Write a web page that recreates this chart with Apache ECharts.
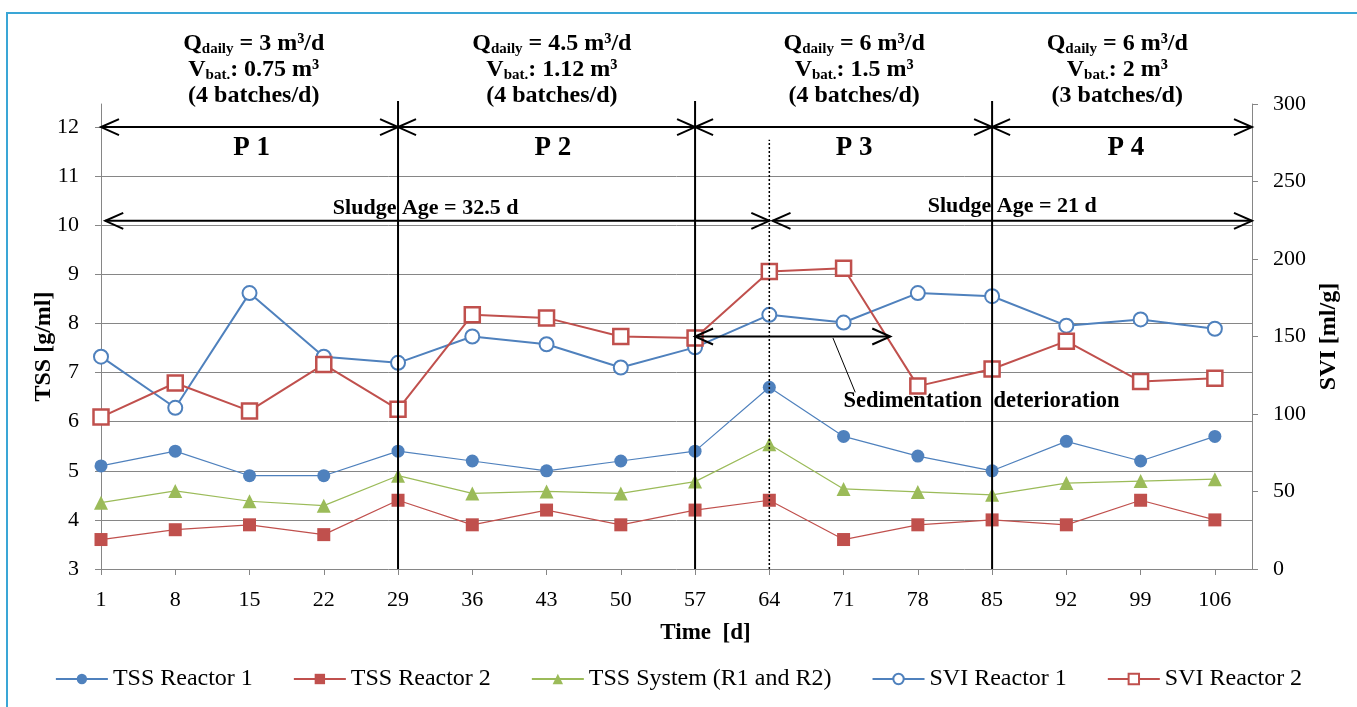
<!DOCTYPE html>
<html>
<head>
<meta charset="utf-8">
<script src="https://cdn.jsdelivr.net/npm/echarts@6/dist/echarts.min.js"></script>
<style>
html,body{margin:0;padding:0;background:#fff;}
#c{width:1357px;height:707px;}
</style>
</head>
<body>
<div id="c"></div>
<script>
// ---- data ----
const days = [1, 8, 15, 22, 29, 36, 43, 50, 57, 64, 71, 78, 85, 92, 99, 106];
const tssR1 = [5.1, 5.4, 4.9, 4.9, 5.4, 5.2, 5.0, 5.2, 5.4, 6.7, 5.7, 5.3, 5.0, 5.6, 5.2, 5.7];
const tssR2 = [3.6, 3.8, 3.9, 3.7, 4.4, 3.9, 4.2, 3.9, 4.2, 4.4, 3.6, 3.9, 4.0, 3.9, 4.4, 4.0];
const tssSys = [4.35, 4.59, 4.38, 4.29, 4.9, 4.54, 4.58, 4.54, 4.78, 5.54, 4.63, 4.57, 4.51, 4.75, 4.79, 4.83];
const sviR1 = [137, 104, 178, 137, 133, 150, 145, 130, 143, 164, 159, 178, 176, 157, 161, 155];
const sviR2 = [98, 120, 102, 132, 103, 164, 162, 150, 149, 192, 194, 118, 129, 147, 121, 123];
const seriesNames = ['TSS Reactor 1', 'TSS Reactor 2', 'TSS System (R1 and R2)', 'SVI Reactor 1', 'SVI Reactor 2'];
const leftTicks = [3, 4, 5, 6, 7, 8, 9, 10, 11, 12];
const xTicks = days;

// period annotations (data coordinates)
const periodBounds = [1, 29, 57, 85, 109.5];
const periodLabels = ['P 1', 'P 2', 'P 3', 'P 4'];
const periodLabelX = [15.2, 43.6, 72, 97.6];
const headerX = [15.4, 43.5, 72, 96.8];
const qDaily = ['3', '4.5', '6', '6'];
const vBat = ['0.75', '1.12', '1.5', '2'];
const batches = ['4', '4', '4', '3'];
const sludgeSplit = 64;
const sludgeTexts = ['Sludge Age = 32.5 d', 'Sludge Age = 21 d'];
const sludgeTextX = [31.6, 86.9];

const C_BLUE = '#4F81BD', C_RED = '#C0504D', C_GREEN = '#9BBB59';
const FONT = '"Liberation Serif", "Times New Roman", serif';

const chart = echarts.init(document.getElementById('c'), null, {renderer: 'canvas'});

function pairs(arr) { return days.map((d, i) => [d, arr[i]]); }

const option = {
  backgroundColor: '#fff',
  animation: false,
  textStyle: {fontFamily: FONT},
  grid: {left: 101, right: 105, top: 104, bottom: 138},
  legend: {
    data: seriesNames,
    top: 662,
    left: 'center',
    itemWidth: 52,
    itemHeight: 13,
    itemGap: 40,
    textStyle: {fontFamily: FONT, fontSize: 24, color: '#000'}
  },
  xAxis: {
    type: 'value', min: 1, max: 109.5, interval: 7,
    name: 'Time  [d]', nameLocation: 'middle', nameGap: 53,
    nameTextStyle: {fontFamily: FONT, fontSize: 23, fontWeight: 'bold', color: '#000', padding: [0, 0, 0, 58]},
    axisLine: {lineStyle: {color: '#868686', width: 1}},
    axisTick: {customValues: xTicks, length: 6, lineStyle: {color: '#868686'}},
    axisLabel: {customValues: xTicks, margin: 20, fontFamily: FONT, fontSize: 22, color: '#000'},
    splitLine: {show: false}
  },
  yAxis: [{
    type: 'value', min: 3, max: 12.47, interval: 1,
    name: 'TSS [g/ml]', nameLocation: 'middle', nameGap: 45, nameRotate: 90, nameMoveOverlap: false,
    nameTextStyle: {fontFamily: FONT, fontSize: 24, fontWeight: 'bold', color: '#000', padding: [0, 20, 0, 0]},
    axisLine: {show: true, lineStyle: {color: '#868686'}},
    axisTick: {show: true, customValues: leftTicks, length: 6, lineStyle: {color: '#868686'}},
    axisLabel: {customValues: leftTicks, margin: 22, fontFamily: FONT, fontSize: 22, color: '#000'},
    splitLine: {show: true, showMinLine: false, showMaxLine: false, lineStyle: {color: '#868686', width: 1}}
  }, {
    type: 'value', min: 0, max: 300, interval: 50, position: 'right',
    name: 'SVI [ml/g]', nameLocation: 'middle', nameGap: 65, nameRotate: 90,
    nameTextStyle: {fontFamily: FONT, fontSize: 24, fontWeight: 'bold', color: '#000'},
    axisLine: {show: true, lineStyle: {color: '#868686'}},
    axisTick: {show: true, length: 6, lineStyle: {color: '#868686'}},
    axisLabel: {margin: 21, fontFamily: FONT, fontSize: 22, color: '#000'},
    splitLine: {show: false}
  }],
  series: [
    {name: seriesNames[0], type: 'line', yAxisIndex: 0, data: pairs(tssR1),
     symbol: 'circle', symbolSize: 13, lineStyle: {color: C_BLUE, width: 1.2},
     itemStyle: {color: C_BLUE}, z: 3},
    {name: seriesNames[1], type: 'line', yAxisIndex: 0, data: pairs(tssR2),
     symbol: 'rect', symbolSize: 13, lineStyle: {color: C_RED, width: 1.2},
     itemStyle: {color: C_RED}, z: 3},
    {name: seriesNames[2], type: 'line', yAxisIndex: 0, data: pairs(tssSys),
     symbol: 'triangle', symbolSize: 14, lineStyle: {color: C_GREEN, width: 1.2},
     itemStyle: {color: C_GREEN}, z: 3},
    {name: seriesNames[3], type: 'line', yAxisIndex: 1, data: pairs(sviR1),
     symbol: 'circle', symbolSize: 14, lineStyle: {color: C_BLUE, width: 2},
     itemStyle: {color: '#fff', borderColor: C_BLUE, borderWidth: 2}, z: 4},
    {name: seriesNames[4], type: 'line', yAxisIndex: 1, data: pairs(sviR2),
     symbol: 'rect', symbolSize: 15, lineStyle: {color: C_RED, width: 2},
     itemStyle: {color: '#fff', borderColor: C_RED, borderWidth: 2.5}, z: 4}
  ]
};
chart.setOption(option);

// ---- annotations (positions derived from data coordinates) ----
function P(x, y) { return chart.convertToPixel({xAxisIndex: 0, yAxisIndex: 0}, [x, y]); }
function PR(x, y) { return chart.convertToPixel({xAxisIndex: 0, yAxisIndex: 1}, [x, y]); }

const g = [];
const Z = 20;
function line(a, b, w, dash) {
  g.push({type: 'line', z: Z, shape: {x1: a[0], y1: a[1], x2: b[0], y2: b[1]},
    style: {stroke: '#000', lineWidth: w, lineDash: dash || null}});
}
function chevron(tip, dir) {
  g.push({type: 'polyline', z: Z, shape: {points: [[tip[0] - dir * 18, tip[1] - 8], [tip[0], tip[1]], [tip[0] - dir * 18, tip[1] + 8]]},
    style: {stroke: '#000', lineWidth: 2, fill: null}});
}
function dblArrow(a, b) {
  line(a, b, 2);
  chevron(a, -1);
  chevron(b, 1);
}
function text(pt, str, size) {
  g.push({type: 'text', z: Z + 1, x: pt[0], y: pt[1],
    style: {text: str, font: 'bold ' + size + 'px ' + FONT, fill: '#000',
      align: 'center', verticalAlign: 'middle'}});
}

// frame
g.push({type: 'rect', z: 0, shape: {x: 7, y: 13, width: 1360, height: 710},
  style: {fill: null, stroke: '#3aa6d6', lineWidth: 2}});

// period arrows, labels and headers
for (let i = 0; i < 4; i++) {
  dblArrow(P(periodBounds[i], 12), P(periodBounds[i + 1], 12));
  text(P(periodLabelX[i], 11.57), periodLabels[i], 27);
  const c = P(headerX[i], 12);
  g.push({type: 'text', z: Z + 1, x: c[0], y: 70,
    style: {
      text: '{b|Q}{s|daily}{b| = ' + qDaily[i] + ' m³/d}\n{b|V}{s|bat.}{b|: ' + vBat[i] + ' m³}\n{b|(' + batches[i] + ' batches/d)}',
      align: 'center', verticalAlign: 'middle', fill: '#000',
      rich: {
        b: {font: 'bold 24px ' + FONT, lineHeight: 26, fill: '#000'},
        s: {font: 'bold 15px ' + FONT, lineHeight: 26, fill: '#000', verticalAlign: 'bottom'}
      }
    }});
}
// vertical period boundaries
[29, 57, 85].forEach(x => line(P(x, 3), P(x, 12.53), 2));
// dotted line at sludge age change
line(P(sludgeSplit, 3), P(sludgeSplit, 11.74), 1.5, [2, 2]);
// sludge age arrows
dblArrow(P(1.4, 10.09), P(sludgeSplit, 10.09));
dblArrow(P(sludgeSplit + 0.3, 10.09), P(109.5, 10.09));
text(P(sludgeTextX[0], 10.35), sludgeTexts[0], 22);
text(P(sludgeTextX[1], 10.39), sludgeTexts[1], 22);
// sedimentation deterioration
dblArrow(PR(57, 150), PR(75.4, 150));
line(PR(70.0, 149), PR(72.1, 114), 1);
text(PR(84.0, 108), 'Sedimentation  deterioration', 22.5);

chart.setOption({graphic: {elements: g}});
</script>
</body>
</html>
